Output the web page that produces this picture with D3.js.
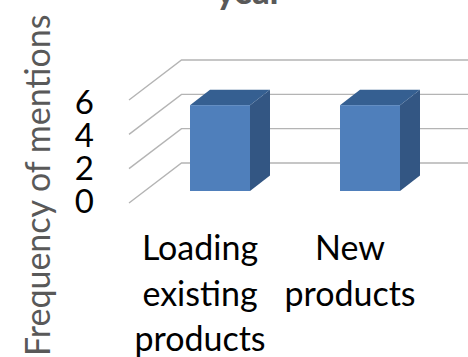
<!DOCTYPE html>
<html><head><meta charset="utf-8">
<script src="https://cdn.jsdelivr.net/npm/d3@7/dist/d3.min.js"></script>
<style>html,body{margin:0;padding:0;background:#fff}svg{display:block}text{font-family:Lato,"Open Sans",sans-serif}</style>
</head><body><svg id="c" width="468" height="357"></svg>
<script>
const categories = [["Loading","existing","products"],["New","products"]];
const values = [5, 5];
const yTicks = [0, 2, 4, 6];
const titleText = "year";
const yTitle = "Frequency of mentions";

const svg = d3.select("#c");
const y = d3.scaleLinear().domain([0, 6]).range([203, 100]);
const yLabel = d3.scaleLinear().domain([0, 6]).range([201, 102]);
const x = d3.scaleBand().domain(d3.range(categories.length)).range([152.5, 437.5]).paddingInner(0.6).paddingOuter(0.25);
const wallDx = 52.5, wallDy = -40;
const barDx = 20, barDy = -15.5, barShift = -12;
const grid = "#b4b4b4";

const g = svg.selectAll("g.tick").data(yTicks).join("g").attr("class", "tick");
g.append("path").attr("fill", "none").attr("stroke", grid).attr("stroke-width", 1.4)
  .attr("d", d => `M129,${y(d)}L${129 + wallDx},${y(d) + wallDy}H468`);
g.append("text").attr("x", 94).attr("y", d => yLabel(d)).attr("dy", "0.36em")
  .attr("text-anchor", "end").attr("font-size", 33).attr("fill", "#000").text(d => d);

const bw = x.bandwidth();
const bars = svg.selectAll("g.bar").data(values).join("g").attr("class", "bar");
const barBase = y(0) + barShift;
const barTop = d => y(d) + barShift;
bars.append("path").attr("fill", "#335683")
  .attr("d", (d, i) => { const a = x(i) + bw; return `M${a},${barBase}V${barTop(d)}l${barDx},${barDy}V${barBase + barDy}Z`; });
bars.append("path").attr("fill", "#355f91")
  .attr("d", (d, i) => `M${x(i)},${barTop(d)}h${bw}l${barDx},${barDy}h${-bw}Z`);
bars.append("rect").attr("x", (d, i) => x(i)).attr("y", barTop).attr("width", bw).attr("height", d => barBase - barTop(d)).attr("fill", "#4f7fbb");

const lh = 45.5;
svg.selectAll("g.cat").data(categories).join("g").attr("class", "cat")
  .each(function (lines, i) {
    d3.select(this).selectAll("text").data(lines).join("text")
      .attr("x", x(i) + bw / 2 - 20)
      .attr("y", (l, j) => 260 + j * lh)
      .attr("text-anchor", "middle").attr("font-size", 34).attr("fill", "#000").text(l => l);
  });

svg.append("text").attr("transform", "translate(50,356) rotate(-90)")
  .attr("font-size", 34).attr("fill", "#595959").text(yTitle);
svg.append("text").attr("x", 249.5).attr("y", 4).attr("text-anchor", "middle")
  .attr("font-size", 34).attr("font-weight", 900).attr("fill", "#595959").text(titleText);
</script></body></html>
